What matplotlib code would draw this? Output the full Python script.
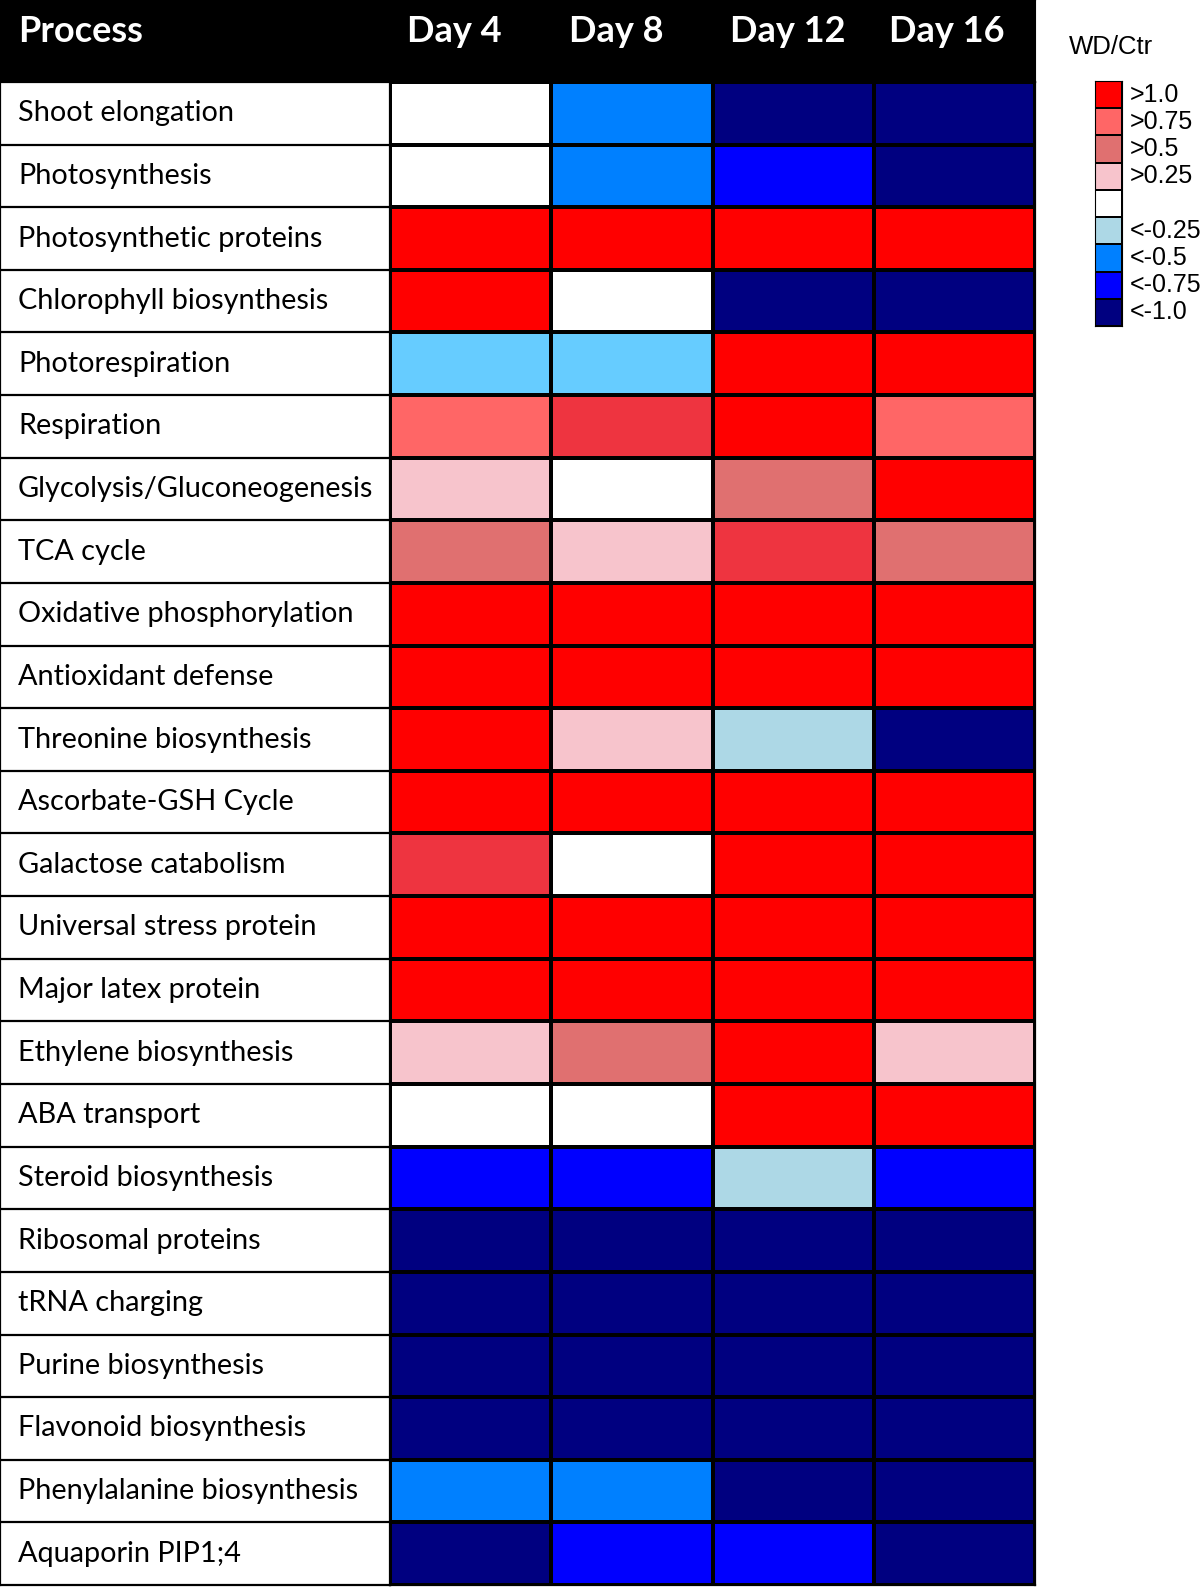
import numpy as np
import matplotlib.pyplot as plt
from matplotlib.colors import ListedColormap, BoundaryNorm

processes = ["Shoot elongation", "Photosynthesis", "Photosynthetic proteins",
             "Chlorophyll biosynthesis", "Photorespiration", "Respiration",
             "Glycolysis/Gluconeogenesis", "TCA cycle", "Oxidative phosphorylation",
             "Antioxidant defense", "Threonine biosynthesis", "Ascorbate-GSH Cycle",
             "Galactose catabolism", "Universal stress protein", "Major latex protein",
             "Ethylene biosynthesis", "ABA transport", "Steroid biosynthesis",
             "Ribosomal proteins", "tRNA charging", "Purine biosynthesis",
             "Flavonoid biosynthesis", "Phenylalanine biosynthesis", "Aquaporin PIP1;4"]
days = ["Day 4", "Day 8", "Day 12", "Day 16"]

# level codes: 4 >1.0, 3.5 strong red, 3 >0.75, 2 >0.5, 1 >0.25, 0 none,
# -1 <-0.25, -1.5 sky blue, -2 <-0.5, -3 <-0.75, -4 <-1.0
day4 = [0, 0, 4, 4, -1.5, 3, 1, 2, 4, 4, 4, 4, 3.5, 4, 4, 1, 0, -3, -4, -4, -4, -4, -2, -4]
day8 = [-2, -2, 4, 0, -1.5, 3.5, 0, 1, 4, 4, 1, 4, 0, 4, 4, 2, 0, -3, -4, -4, -4, -4, -2, -3]
day12 = [-4, -3, 4, -4, 4, 4, 2, 3.5, 4, 4, -1, 4, 4, 4, 4, 4, 4, -1, -4, -4, -4, -4, -4, -3]
day16 = [-4, -4, 4, -4, 4, 3, 4, 2, 4, 4, -4, 4, 4, 4, 4, 1, 4, -3, -4, -4, -4, -4, -4, -4]

levels = [-4, -3, -2, -1.5, -1, 0, 1, 2, 3, 3.5, 4]
level_colors = ["#000080", "#0000FF", "#0080FF", "#66CCFF", "#ADD8E6", "#FFFFFF",
                "#F7C4CC", "#E07070", "#FF6666", "#EE3440", "#FF0000"]
legend_levels = [4, 3, 2, 1, 0, -1, -2, -3, -4]
legend_labels = [">1.0", ">0.75", ">0.5", ">0.25", "", "<-0.25", "<-0.5", "<-0.75", "<-1.0"]

cmap = ListedColormap(level_colors)
bounds = [-5] + [(a + b) / 2 for a, b in zip(levels[:-1], levels[1:])] + [5]
norm = BoundaryNorm(bounds, cmap.N)

W, H = 1200, 1587
fig = plt.figure(figsize=(W / 100, H / 100), dpi=100)

def px_axes(x0, y0, x1, y1):
    return fig.add_axes([x0 / W, 1 - y1 / H, (x1 - x0) / W, (y1 - y0) / H])

label_font = "Lato"
lw = 1.6
tbl_top, tbl_bot = 82, 1585
lab_x1, heat_x1 = 390, 1035

# header
axh = px_axes(0, 0, heat_x1, tbl_top)
axh.set_facecolor("black")
axh.set_xlim(0, heat_x1)
axh.set_ylim(tbl_top, 0)
axh.set_xticks([]); axh.set_yticks([])
axh.text(18, 32, "Process", color="white", fontsize=26, fontweight="bold",
         family=label_font, va="center", ha="left")
for d, xc in zip(days, [454, 616, 788, 947]):
    axh.text(xc, 32, d, color="white", fontsize=26, fontweight="bold",
             family=label_font, va="center", ha="center")

# heatmap
data = np.array([day4, day8, day12, day16]).T
axm = px_axes(lab_x1, tbl_top, heat_x1, tbl_bot)
axm.pcolormesh(data, cmap=cmap, norm=norm, edgecolors="black", linewidth=lw)
axm.set_xlim(0, len(days))
axm.set_ylim(len(processes), 0)
axm.set_xticks([]); axm.set_yticks([])
for s in axm.spines.values():
    s.set_linewidth(lw)

# process labels
axl = px_axes(0, tbl_top, lab_x1, tbl_bot)
axl.set_xlim(0, 1)
axl.set_ylim(len(processes), 0)
axl.set_xticks([]); axl.set_yticks([])
for s in axl.spines.values():
    s.set_linewidth(lw)
for i, p in enumerate(processes):
    if i > 0:
        axl.axhline(i, color="black", linewidth=lw)
    axl.text(18 / lab_x1, i + 0.5, p, fontsize=20.8, family=label_font,
             va="center", ha="left")

# legend
fig.text(1069 / W, 1 - 47 / H, "WD/Ctr", fontsize=18.5, family="Liberation Sans",
         va="center", ha="left")
axg = px_axes(1095, 81, 1122, 326)
leg = np.array(legend_levels).reshape(-1, 1)
axg.pcolormesh(leg, cmap=cmap, norm=norm, edgecolors="black", linewidth=1.2)
axg.set_xlim(0, 1)
axg.set_ylim(len(legend_levels), 0)
axg.set_xticks([]); axg.set_yticks([])
for i, t in enumerate(legend_labels):
    axg.text(1.3, i + 0.5, t, fontsize=18, family="Liberation Sans",
             va="center", ha="left", clip_on=False)

fig.savefig("out.png", dpi=100)
